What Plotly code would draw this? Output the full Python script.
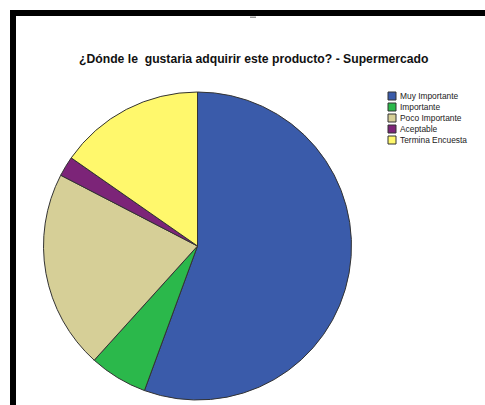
import plotly.graph_objects as go

labels = ["Muy Importante", "Importante", "Poco Importante", "Aceptable", "Termina Encuesta"]
values = [55.6, 6.1, 20.9, 2.1, 15.3]
colors = ["#3A5BAA", "#2BB84B", "#D6CF97", "#7C2478", "#FFF86C"]
title = "¿Dónde le  gustaria adquirir este producto? - Supermercado"

W, H = 485, 405
def px(x):
    return x / W
def py(y):
    return 1 - y / H

cx, cy, r = 197.5, 246, 154

fig = go.Figure(go.Pie(
    labels=labels, values=values, sort=False, direction="clockwise", rotation=0,
    marker=dict(colors=colors, line=dict(color="#333333", width=1)),
    textinfo="none", hoverinfo="label+percent", showlegend=False,
    domain=dict(x=[px(cx - r), px(cx + r)], y=[py(cy + r), py(cy - r)]),
))

shapes = [
    dict(type="rect", xref="paper", yref="paper", x0=px(10), x1=px(485), y0=py(16), y1=py(10),
         fillcolor="black", line=dict(width=0)),
    dict(type="rect", xref="paper", yref="paper", x0=px(10), x1=px(16), y0=py(405), y1=py(10),
         fillcolor="black", line=dict(width=0)),
    dict(type="rect", xref="paper", yref="paper", x0=px(250), x1=px(256), y0=py(18), y1=py(16.5),
         fillcolor="#999999", line=dict(width=0)),
]
annotations = [
    dict(text="<b>" + title + "</b>", x=px(253), y=py(59), xref="paper", yref="paper",
         showarrow=False, xanchor="center", yanchor="middle",
         font=dict(family="Liberation Sans, Arial", size=12.2, color="#111111")),
]
for i, (lab, col) in enumerate(zip(labels, colors)):
    y0 = 92 + 11 * i
    shapes.append(dict(type="rect", xref="paper", yref="paper", x0=px(388), x1=px(396),
                       y0=py(y0 + 8), y1=py(y0), fillcolor=col,
                       line=dict(color="#333333", width=1)))
    annotations.append(dict(text=lab, x=px(398), y=py(y0 + 4), xref="paper", yref="paper",
                            showarrow=False, xanchor="left", yanchor="middle",
                            font=dict(family="Liberation Sans, Arial", size=8.4, color="#222222")))

fig.update_layout(
    width=W, height=H, margin=dict(l=0, r=0, t=0, b=0),
    paper_bgcolor="white", plot_bgcolor="white",
    shapes=shapes, annotations=annotations,
)
fig.write_html("out.html", config={"displayModeBar": False},
               post_script="document.body.style.margin='0px';")
